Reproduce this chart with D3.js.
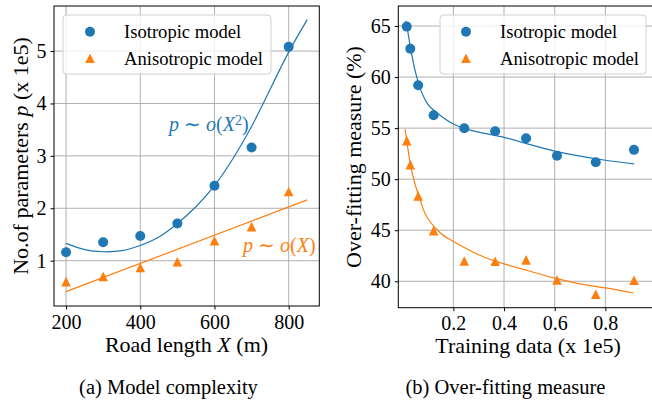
<!DOCTYPE html>
<html>
<head>
<meta charset="utf-8">
<script src="https://cdn.jsdelivr.net/npm/d3@7"></script>
<style>
  html, body { margin: 0; padding: 0; background: #fff; }
  svg { display: block; font-family: "Liberation Serif", "Times New Roman", serif; }
</style>
</head>
<body>
<svg id="fig" width="652" height="403"></svg>
<script>
// ---- (a) Model complexity ----
const roadLength = [200, 300, 400, 500, 600, 700, 800];
const paramsIso = [1.16, 1.35, 1.47, 1.71, 2.43, 3.16, 5.08];
const paramsAniso = [0.60, 0.70, 0.87, 0.98, 1.38, 1.65, 2.32];
// fitted trends
const isoTrendX = [200, 250, 300, 350, 400, 450, 500, 550, 600, 650, 700, 750, 800, 850];
const isoTrendP = [1.33, 1.21, 1.17, 1.19, 1.29, 1.45, 1.71, 2.03, 2.43, 2.95, 3.56, 4.27, 4.98, 5.60];
const anisoTrendX = [200, 850];
const anisoTrendP = [0.41, 2.16];
const roadTicks = [200, 400, 600, 800];
const paramTicks = [1, 2, 3, 4, 5];

// ---- (b) Over-fitting measure ----
const trainingData = [0.016, 0.030, 0.061, 0.122, 0.243, 0.365, 0.487, 0.609, 0.762, 0.913];
const overfitIso = [64.94, 62.78, 59.20, 56.26, 54.99, 54.69, 54.00, 52.30, 51.65, 52.87];
const overfitAniso = [53.77, 51.42, 48.36, 44.96, 41.98, 41.96, 42.09, 40.13, 38.73, 40.10];
const isoFitX = [0.013, 0.03, 0.05, 0.075, 0.1, 0.13, 0.2, 0.3, 0.4, 0.5, 0.6, 0.7, 0.8, 0.913];
const isoFitY = [65.5, 63.0, 60.5, 58.5, 57.3, 56.6, 55.4, 54.6, 54.1, 53.4, 52.75, 52.25, 51.85, 51.5];
const anisoFitX = [0.009, 0.016, 0.03, 0.05, 0.075, 0.1, 0.15, 0.2, 0.3, 0.4, 0.5, 0.6, 0.7, 0.8, 0.912];
const anisoFitY = [54.9, 53.75, 51.5, 49.4, 47.5, 46.1, 44.7, 43.9, 42.6, 41.7, 41.0, 40.3, 39.75, 39.35, 38.85];
const trainTicks = [0.2, 0.4, 0.6, 0.8];
const overfitTicks = [40, 45, 50, 55, 60, 65];

const legendLabels = ["Isotropic model", "Anisotropic model"];

const BLUE = "#1f77b4", ORANGE = "#ff7f0e";
const SERIF = "'Liberation Serif', 'Times New Roman', serif";
const svg = d3.select("#fig");
svg.append("rect").attr("width", 652).attr("height", 403).attr("fill", "#fff");

const zip = (xs, ys) => xs.map((x, i) => [x, ys[i]]);

function tri(r) {
  return `M0,${-r}L${r},${r}L${-r},${r}Z`;
}

// draws one panel: frame, grid, ticks, returns scales and group
function panel(opt) {
  const x = d3.scaleLinear().domain(opt.xDomain).range([opt.left, opt.right]);
  const y = d3.scaleLinear().domain(opt.yDomain).range([opt.bottom, opt.top]);
  const g = svg.append("g");
  const clipId = opt.id + "-clip";
  g.append("clipPath").attr("id", clipId).append("rect")
    .attr("x", opt.left).attr("y", opt.top)
    .attr("width", opt.right - opt.left).attr("height", opt.bottom - opt.top);

  const grid = g.append("g").attr("stroke", "#b0b0b0").attr("stroke-width", 1);
  grid.selectAll("line.gx").data(opt.xTicks).join("line")
    .attr("x1", d => x(d)).attr("x2", d => x(d))
    .attr("y1", opt.top).attr("y2", opt.bottom);
  grid.selectAll("line.gy").data(opt.yTicks).join("line")
    .attr("x1", opt.left).attr("x2", opt.right)
    .attr("y1", d => y(d)).attr("y2", d => y(d));

  const xa = d3.axisBottom(x).tickValues(opt.xTicks).tickSize(3.5).tickSizeOuter(0)
    .tickPadding(3.5).tickFormat(opt.xFormat || d3.format("d"));
  const ya = d3.axisLeft(y).tickValues(opt.yTicks).tickSize(3.5).tickSizeOuter(0)
    .tickPadding(4).tickFormat(d3.format("d"));
  const gx = g.append("g").attr("transform", `translate(0,${opt.bottom})`).call(xa);
  const gy = g.append("g").attr("transform", `translate(${opt.left},0)`).call(ya);
  [gx, gy].forEach(a => {
    a.attr("font-family", SERIF).attr("font-size", 20);
    a.select(".domain").remove();
    a.selectAll(".tick line").attr("stroke", "#000").attr("stroke-width", 1);
    a.selectAll(".tick text").attr("fill", "#000");
  });
  gx.selectAll(".tick text").attr("dy", "0.78em");

  const plot = g.append("g").attr("clip-path", `url(#${clipId})`);
  g.append("rect")
    .attr("x", opt.left).attr("y", opt.top)
    .attr("width", opt.right - opt.left).attr("height", opt.bottom - opt.top)
    .attr("fill", "none").attr("stroke", "#000").attr("stroke-width", 1);
  return { x, y, g, plot };
}

function series(p, xs, ys, color, shape) {
  const sel = p.plot.append("g").attr("fill", color);
  if (shape === "circle") {
    sel.selectAll("circle").data(zip(xs, ys)).join("circle")
      .attr("cx", d => p.x(d[0])).attr("cy", d => p.y(d[1])).attr("r", 5);
  } else {
    sel.selectAll("path").data(zip(xs, ys)).join("path")
      .attr("d", tri(4.8))
      .attr("transform", d => `translate(${p.x(d[0])},${p.y(d[1])})`);
  }
}

function trend(p, xs, ys, color) {
  const line = d3.line().x(d => p.x(d[0])).y(d => p.y(d[1])).curve(d3.curveNatural);
  p.plot.append("path").attr("d", line(zip(xs, ys)))
    .attr("fill", "none").attr("stroke", color).attr("stroke-width", 1.2);
}

function legend(box, mx, tx) {
  const g = svg.append("g");
  g.append("rect").attr("x", box[0]).attr("y", box[1])
    .attr("width", box[2]).attr("height", box[3]).attr("rx", 3.5)
    .attr("fill", "#fff").attr("fill-opacity", 0.8)
    .attr("stroke", "#d0d0d0").attr("stroke-width", 1);
  const rows = [box[1] + 16.7, box[1] + 43.3];
  g.append("circle").attr("cx", mx).attr("cy", rows[0]).attr("r", 5).attr("fill", BLUE);
  g.append("path").attr("d", tri(4.8)).attr("transform", `translate(${mx},${rows[1]})`).attr("fill", ORANGE);
  legendLabels.forEach((t, i) => {
    g.append("text").attr("x", tx).attr("y", rows[i]).attr("dy", "0.34em")
      .style("font-family", SERIF).style("font-size", "18.6px").text(t);
  });
}

// rich text helper: parts = [text, style]
function rich(parent, x, y, parts, opts = {}) {
  const t = parent.append("text").attr("x", x).attr("y", y)
    .style("font-family", SERIF)
    .style("font-size", (opts.size || 20) + "px")
    .attr("text-anchor", opts.anchor || "middle")
    .attr("fill", opts.fill || "#000");
  if (opts.rotate) t.attr("transform", `rotate(-90,${x},${y})`);
  parts.forEach(([s, st]) => {
    const sp = t.append("tspan").text(s);
    if (st === "i") sp.style("font-style", "italic");
    if (st === "sup") sp.attr("dy", "-0.45em").style("font-size", "0.7em");
    if (st === "after-sup") sp.attr("dy", "0.315em");
  });
  return t;
}

// ---- panel (a) ----
const pa = panel({
  id: "pa", left: 54, right: 319.3, top: 6, bottom: 306,
  xDomain: [167.5, 882.5], yDomain: [0.135, 5.86],
  xTicks: roadTicks, yTicks: paramTicks
});
trend(pa, isoTrendX, isoTrendP, BLUE);
trend(pa, anisoTrendX, anisoTrendP, ORANGE);
series(pa, roadLength, paramsIso, BLUE, "circle");
series(pa, roadLength, paramsAniso, ORANGE, "triangle");
legend([63, 15, 208, 59], 90, 124);
rich(svg, 169, 131, [["p", "i"], [" \u223C ", ""], ["o", "i"], ["(", ""], ["X", "i"], ["2", "sup"], [")", "after-sup"]],
  { size: 20, anchor: "start", fill: BLUE });
rich(svg, 243, 252, [["p", "i"], [" \u223C ", ""], ["o", "i"], ["(", ""], ["X", "i"], [")", ""]],
  { size: 20, anchor: "start", fill: ORANGE });
rich(svg, 186.5, 351.5, [["Road length ", ""], ["X", "i"], [" (m)", ""]], { size: 22 });
rich(svg, 28, 156, [["No.of parameters ", ""], ["p", "i"], [" (x 1e5)", ""]], { size: 22, rotate: true });
rich(svg, 168.5, 394, [["(a) Model complexity", ""]], { size: 20.5 });

// ---- panel (b) ----
const pb = panel({
  id: "pb", left: 398.3, right: 653, top: 6, bottom: 307.7,
  xDomain: [-0.0174, 0.988], yDomain: [37.41, 66.96],
  xTicks: trainTicks, yTicks: overfitTicks, xFormat: d3.format(".1f")
});
trend(pb, isoFitX, isoFitY, BLUE);
trend(pb, anisoFitX, anisoFitY, ORANGE);
series(pb, trainingData, overfitIso, BLUE, "circle");
series(pb, trainingData, overfitAniso, ORANGE, "triangle");
legend([440, 15, 206, 59], 466, 500);
rich(svg, 528, 353, [["Training data (x 1e5)", ""]], { size: 22 });
rich(svg, 361, 157, [["Over-fitting measure (%)", ""]], { size: 22, rotate: true });
rich(svg, 505.5, 394, [["(b) Over-fitting measure", ""]], { size: 20.5 });
</script>
</body>
</html>
